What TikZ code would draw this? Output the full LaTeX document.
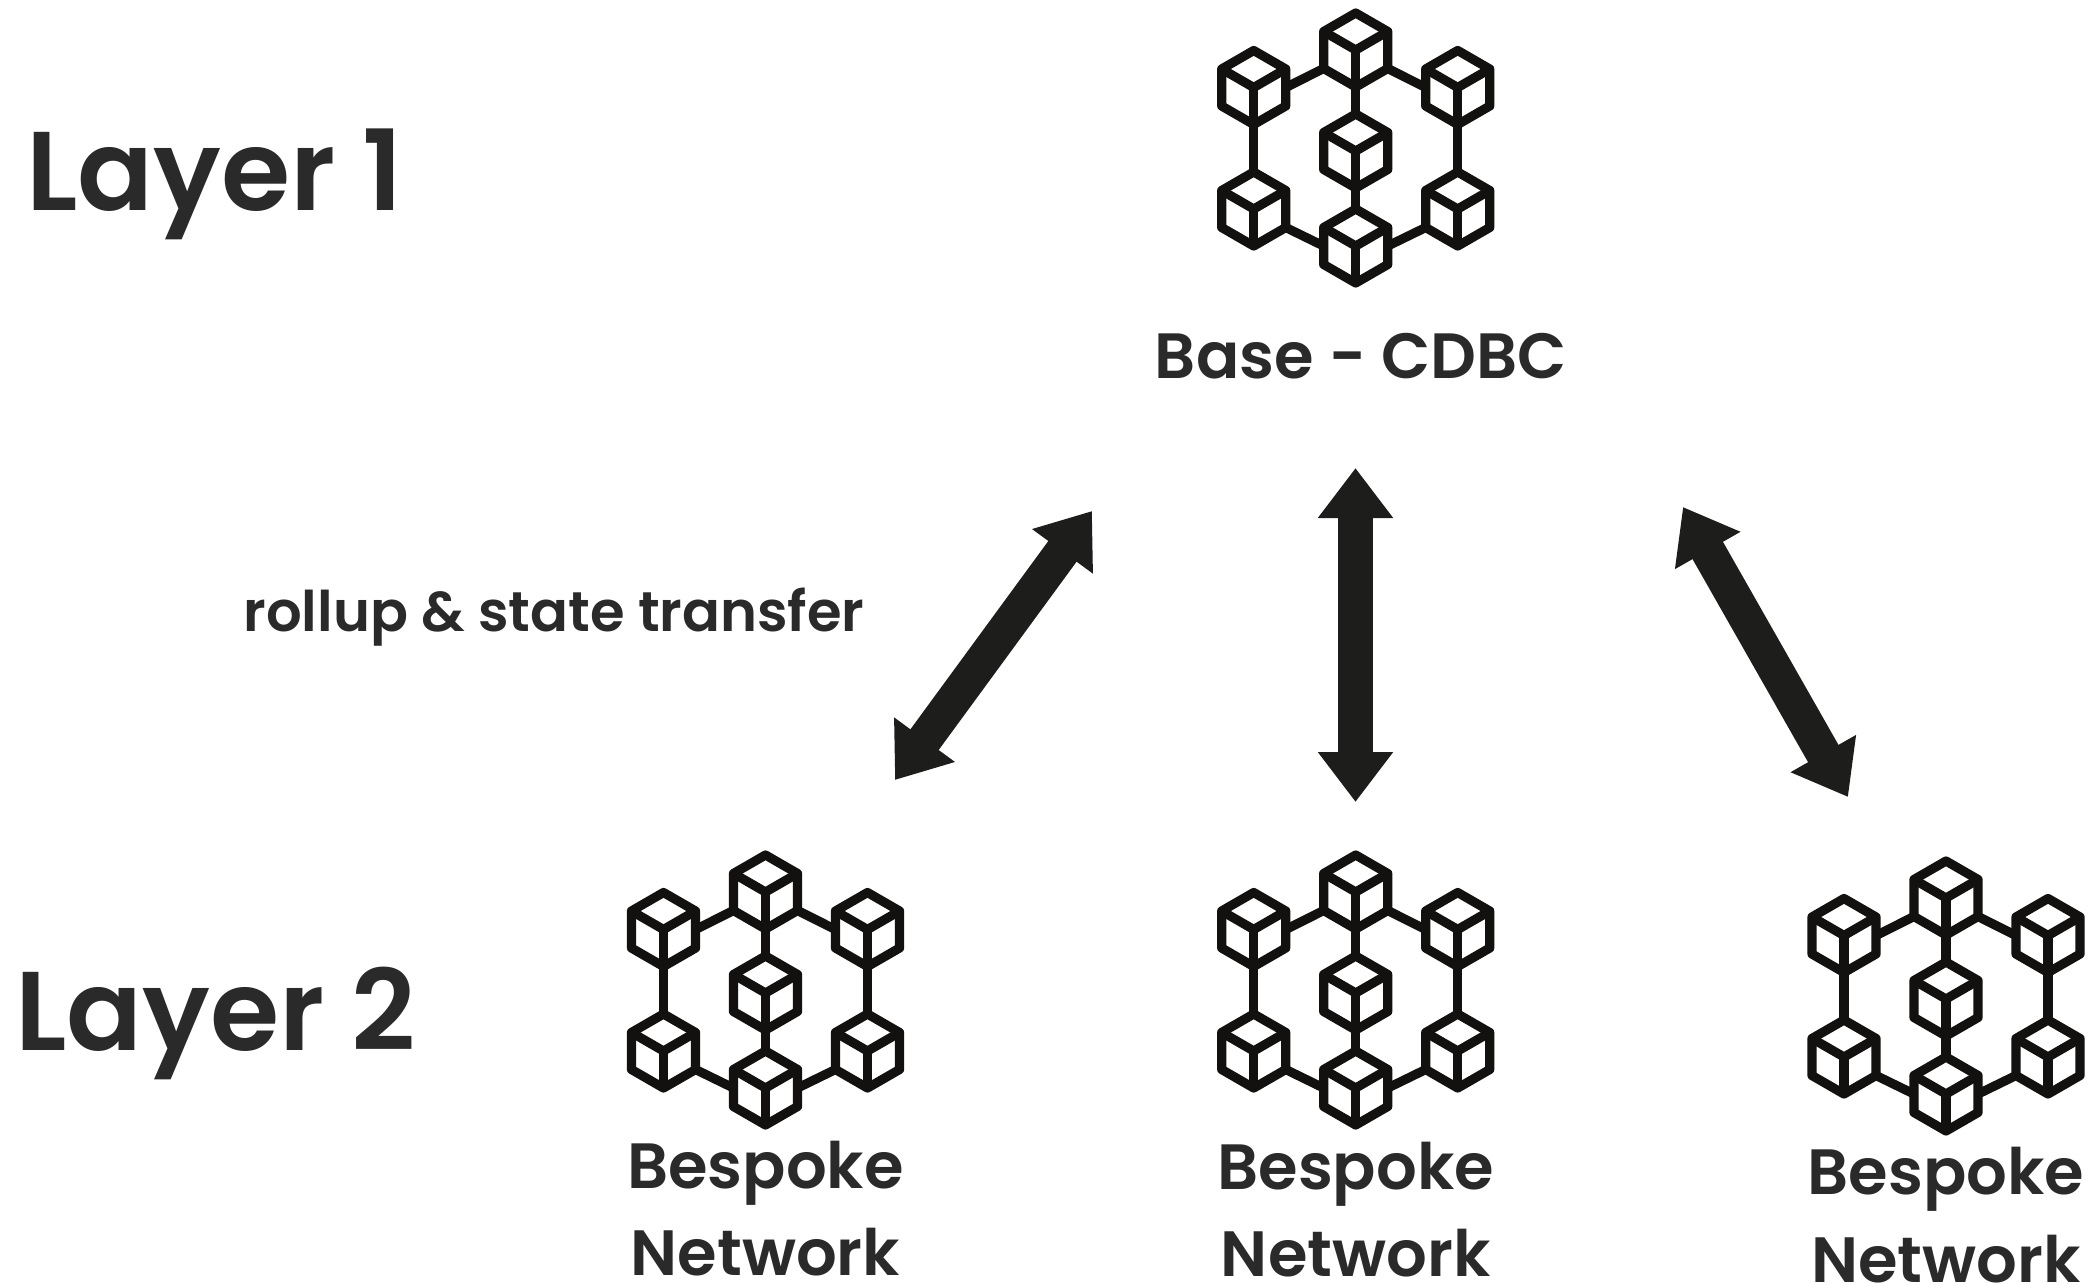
\documentclass[tikz,border=0pt]{standalone}
\usepackage{fontspec}
\usetikzlibrary{arrows.meta,shapes.geometric}
\setmainfont{Poppins}[BoldFont={Poppins SemiBold}]
\definecolor{inkdark}{HTML}{12110F}
\definecolor{arrowdark}{HTML}{1D1D1B}
\definecolor{textdark}{HTML}{2A2A2A}

\tikzset{
    cube/.style={regular polygon, regular polygon sides=6, shape border rotate=-30, draw=inkdark,
        line width=4.6pt, line join=round, inner sep=0pt, outer sep=0pt, minimum size=37pt},
    link/.style={draw=inkdark, line width=4.6pt},
    network/.pic={
        % Cubes
        \node[cube] (-top) at (0,0) {};
        \node[cube] (-ul) at (-102,37.5) {};
        \node[cube] (-ur) at (102,37.5) {};
        \node[cube] (-mid) at (0,101) {};
        \node[cube] (-ll) at (-102,159) {};
        \node[cube] (-lr) at (102,159) {};
        \node[cube] (-bot) at (0,196) {};
        \foreach \cb in {top,ul,ur,mid,ll,lr,bot} {
            \draw[link] (-\cb.corner 3) -- (-\cb.center) -- (-\cb.corner 1);
            \draw[link] (-\cb.center) -- (-\cb.corner 5);
        }
        % Links between cubes
        \draw[link] (-top.corner 4) -- (-ul.east);
        \draw[link] (-top.corner 6) -- (-ur.west);
        \draw[link] (-ul.corner 5) -- (-ll.corner 2);
        \draw[link] (-ur.corner 5) -- (-lr.corner 2);
        \draw[link] (-top.corner 5) -- (-mid.corner 2);
        \draw[link] (-mid.corner 5) -- (-bot.corner 2);
        \draw[link] (-ll.corner 6) -- (-bot.west);
        \draw[link] (-lr.corner 4) -- (-bot.east);
    }
}

\begin{document}
\begin{tikzpicture}[x=0.5pt, y=-0.5pt]
    \tikzstyle{layerlabel} = [anchor=base west, inner sep=0pt, text=textdark, font=\bfseries\fontsize{56}{60}\selectfont]
    \tikzstyle{netlabel} = [anchor=base, inner sep=0pt, text=textdark, font=\bfseries\fontsize{32}{40}\selectfont]
    \tikzstyle{twoway} = [{Triangle[length=25pt, width=36pt]}-{Triangle[length=25pt, width=36pt]}, draw=arrowdark, fill=arrowdark, line width=17.5pt]

    \useasboundingbox (0,0) rectangle (2094,1285);

    % Layer titles
    \node[layerlabel] (layerone) at (26,210) {Layer 1};
    \node[layerlabel] (layertwo) at (15,1050) {Layer 2};

    % Networks
    \pic (base) at (1355.7,50) {network};
    \pic (left) at (765.5,892) {network};
    \pic (middle) at (1355.7,892) {network};
    \pic (right) at (1946,898) {network};

    % Labels
    \node[netlabel] (basetext) at (1361,378) {Base - CDBC};
    \node[netlabel] (lefta) at (765.5,1188) {Bespoke};
    \node[netlabel] (leftb) at (765.5,1275) {Network};
    \node[netlabel] (middlea) at (1355.7,1189) {Bespoke};
    \node[netlabel] (middleb) at (1355.7,1276) {Network};
    \node[netlabel] (righta) at (1946,1194) {Bespoke};
    \node[netlabel] (rightb) at (1946,1282) {Network};
    \node[netlabel, font=\bfseries\fontsize{28}{32}\selectfont] (rolluptext) at (554,631) {rollup \& state transfer};

    % Arrows
    \coordinate (lefttop) at (1092,511);
    \coordinate (leftend) at (895,780);
    \coordinate (middletop) at (1355.5,468);
    \coordinate (middleend) at (1355.5,802);
    \coordinate (righttop) at (1683,507);
    \coordinate (rightend) at (1848,797);
    \draw[twoway] (lefttop) -- (leftend);
    \draw[twoway] (middletop) -- (middleend);
    \draw[twoway] (righttop) -- (rightend);

\end{tikzpicture}
\end{document}
